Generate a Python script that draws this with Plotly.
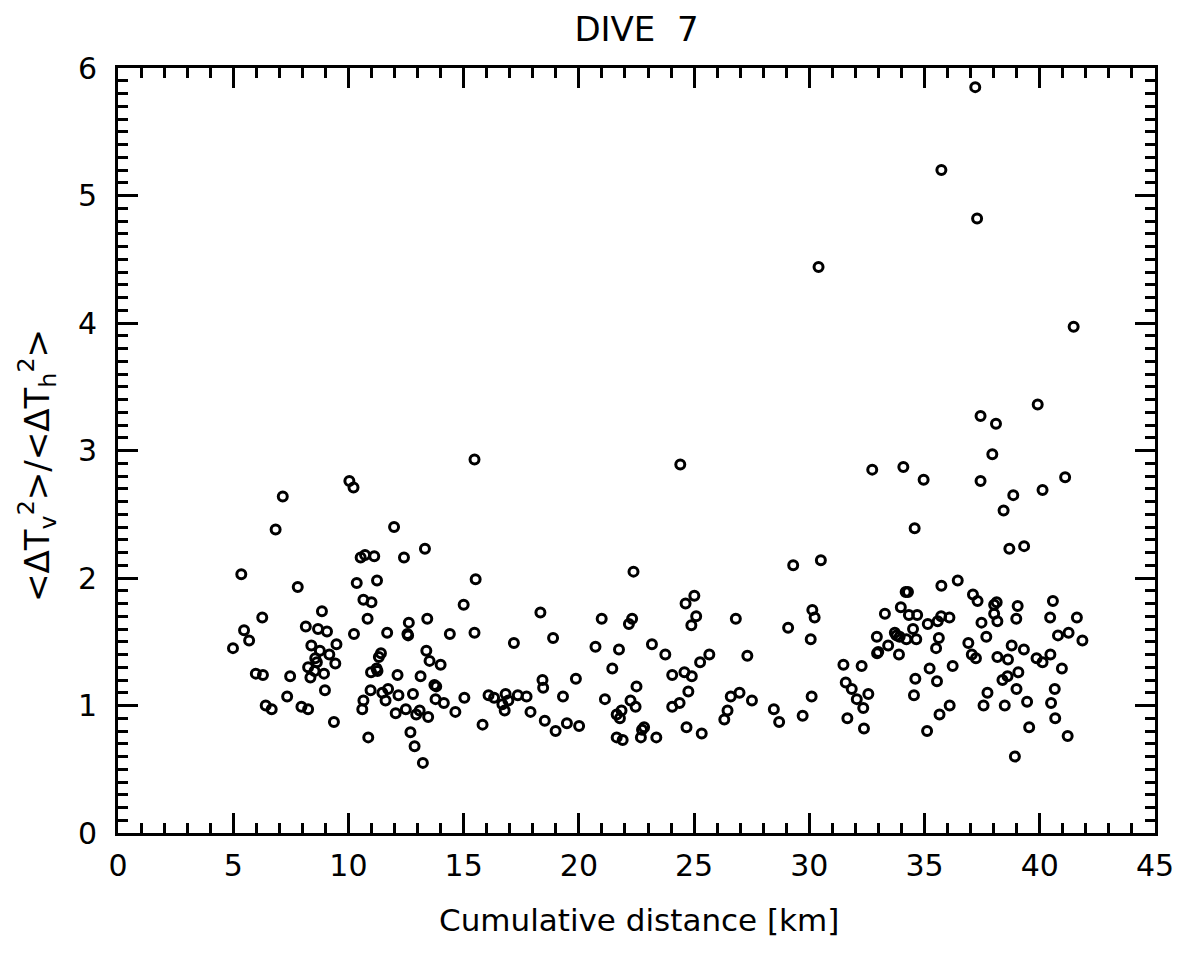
import plotly.graph_objects as go

# Cumulative distance [km]
dist_km = [
    4.99, 5.35, 5.47, 5.69, 5.98, 6.26, 6.29, 6.41, 6.67, 6.84, 7.15, 7.34, 7.47, 7.80, 7.96,
    8.15, 8.25, 8.25, 8.35, 8.39, 8.53, 8.56, 8.63, 8.68, 8.76, 8.85, 8.94, 8.98, 9.07, 9.17,
    9.37, 9.43, 9.48, 10.04, 10.22, 10.24, 10.36, 10.53, 10.60, 10.65, 10.65, 10.72, 10.83,
    10.86, 10.96, 10.98, 11.00, 11.12, 11.22, 11.24, 11.26, 11.32, 11.41, 11.47, 11.61, 11.68,
    11.72, 11.98, 12.05, 12.13, 12.17, 12.41, 12.49, 12.56, 12.59, 12.62, 12.69, 12.80, 12.87,
    12.94, 13.09, 13.13, 13.23, 13.32, 13.38, 13.42, 13.46, 13.52, 13.73, 13.78, 13.81, 14.00,
    14.14, 14.40, 14.64, 15.00, 15.03, 15.47, 15.47, 15.52, 15.82, 16.08, 16.32, 16.68, 16.78,
    16.82, 16.94, 17.18, 17.35, 17.73, 17.90, 18.33, 18.42, 18.45, 18.52, 18.88, 18.99, 19.31,
    19.48, 19.87, 20.01, 20.72, 20.99, 21.13, 21.45, 21.64, 21.64, 21.74, 21.78, 21.85, 21.90,
    22.17, 22.24, 22.31, 22.37, 22.46, 22.50, 22.69, 22.74, 22.83, 23.17, 23.36, 23.75, 24.05,
    24.05, 24.37, 24.40, 24.58, 24.63, 24.67, 24.75, 24.88, 24.90, 25.01, 25.09, 25.26, 25.33,
    25.66, 26.31, 26.45, 26.59, 26.81, 26.97, 27.31, 27.51, 28.46, 28.69, 29.08, 29.30, 29.71,
    30.06, 30.10, 30.13, 30.23, 30.40, 30.50, 31.48, 31.58, 31.65, 31.84, 32.06, 32.27, 32.34,
    32.37, 32.56, 32.73, 32.93, 32.94, 32.99, 33.28, 33.42, 33.71, 33.78, 33.89, 33.92, 33.97,
    34.08, 34.18, 34.21, 34.28, 34.32, 34.50, 34.54, 34.57, 34.60, 34.64, 34.68, 34.96, 35.11,
    35.14, 35.22, 35.50, 35.54, 35.57, 35.62, 35.65, 35.72, 35.73, 35.73, 36.08, 36.09, 36.22,
    36.44, 36.90, 37.05, 37.10, 37.20, 37.23, 37.28, 37.30, 37.43, 37.43, 37.47, 37.56, 37.68,
    37.73, 37.94, 38.02, 38.02, 38.10, 38.13, 38.16, 38.16, 38.38, 38.43, 38.48, 38.60, 38.62,
    38.68, 38.78, 38.85, 38.92, 38.98, 38.99, 39.04, 39.07, 39.31, 39.32, 39.45, 39.54, 39.86,
    39.91, 40.12, 40.12, 40.45, 40.46, 40.49, 40.57, 40.65, 40.67, 40.79, 40.96, 41.10, 41.21,
    41.25, 41.47, 41.61, 41.85,
]

# <dT_v^2>/<dT_h^2>
ratio = [
    1.45, 2.03, 1.59, 1.51, 1.25, 1.69, 1.24, 1.00, 0.97, 2.38, 2.64, 1.07, 1.23, 1.93, 0.99,
    1.62, 1.30, 0.97, 1.22, 1.47, 1.27, 1.37, 1.34, 1.60, 1.43, 1.74, 1.25, 1.12, 1.58, 1.40,
    0.87, 1.33, 1.48, 2.76, 2.71, 1.56, 1.96, 2.16, 0.97, 1.04, 1.83, 2.18, 1.68,
    0.75, 1.12, 1.26, 1.81, 2.17, 1.29, 1.98, 1.27, 1.38, 1.41, 1.10, 1.04, 1.57,
    1.13, 2.40, 0.94, 1.24, 1.08, 2.16, 0.97, 1.56, 1.55, 1.65, 0.79, 1.09, 0.68,
    0.93, 0.96, 1.23, 0.55, 2.23, 1.43, 1.68, 0.91, 1.35, 1.16, 1.05, 1.15, 1.32,
    1.02, 1.56, 0.95, 1.79, 1.06, 1.57, 2.93, 1.99, 0.85, 1.08, 1.06, 1.01, 0.96,
    1.09, 1.04, 1.49, 1.08, 1.07, 0.95, 1.73, 1.20, 1.14, 0.88, 1.53, 0.80, 1.07,
    0.86, 1.21, 0.84, 1.46, 1.68, 1.05, 1.29, 0.93, 0.75, 1.44, 0.90, 0.96, 0.73,
    1.64, 1.04, 1.68, 2.05, 0.99, 1.15, 0.75, 0.81, 0.83, 1.48, 0.75, 1.40, 1.24,
    0.99, 1.02, 2.89, 1.26, 1.80, 0.83, 1.11, 1.63, 1.23, 1.86, 1.70, 1.34, 0.78,
    1.40, 0.89, 0.96, 1.07, 1.68, 1.10, 1.39, 1.04, 0.97, 0.87, 1.61, 2.10, 0.92,
    1.52, 1.07, 1.75, 1.69, 4.44, 2.14, 1.32, 1.18, 0.90, 1.13, 1.05, 1.31, 0.98,
    0.82, 1.09, 2.85, 1.54, 1.41, 1.42, 1.72, 1.47, 1.57, 1.55, 1.40, 1.54, 1.77,
    2.87, 1.89, 1.52, 1.89, 1.71, 1.60, 1.08, 2.39, 1.21, 1.52, 1.71, 2.77, 0.80,
    1.64, 1.29, 1.45, 1.19, 1.66, 1.53, 0.93, 1.70, 5.20, 1.94, 1.69, 1.00, 1.31,
    1.98, 1.49, 1.40, 1.87, 5.85, 1.37, 4.82, 1.82, 3.27, 2.76, 1.65, 1.00, 1.54,
    1.10, 2.97, 1.79, 1.72, 3.21, 1.81, 1.66, 1.38, 1.20, 2.53, 1.00, 1.23, 1.36,
    2.23, 1.47, 2.65, 0.60, 1.68, 1.13, 1.78, 1.26, 1.44, 2.25, 1.03, 0.83, 1.37,
    3.36, 2.69, 1.34, 1.69, 1.40, 1.02, 1.82, 1.13, 0.90, 1.55, 1.29, 2.79, 0.76,
    1.57, 3.97, 1.69, 1.51,
]

title_text = "DIVE  7"
x_title = "Cumulative distance [km]"
y_title = "&lt;ΔT<sub>v</sub><sup>2</sup>&gt;/&lt;ΔT<sub>h</sub><sup>2</sup>&gt;"
x_ticks = [0, 5, 10, 15, 20, 25, 30, 35, 40, 45]
y_ticks = [0, 1, 2, 3, 4, 5, 6]

FONT = "DejaVu Sans"

fig = go.Figure()
fig.add_trace(go.Scatter(
    x=dist_km, y=ratio, mode="markers",
    marker=dict(symbol="circle-open", size=9, color="black", line=dict(width=3, color="black")),
    showlegend=False,
))

axis_common = dict(
    showgrid=False, zeroline=False, showline=True, linecolor="black", linewidth=3,
    mirror="ticks", ticks="inside", tickcolor="black", tickwidth=2.5, ticklen=20,
    tickfont=dict(family=FONT, size=30, color="black"),
)

fig.update_xaxes(
    range=[0, 45], tickvals=x_ticks, ticktext=[str(v) for v in x_ticks],
    minor=dict(dtick=1, ticks="inside", ticklen=10, tickwidth=2.5, tickcolor="black"),
    ticklabelstandoff=4,
    **axis_common,
)
fig.update_yaxes(
    range=[0, 6], tickvals=y_ticks, ticktext=[str(v) for v in y_ticks],
    minor=dict(dtick=0.1, ticks="inside", ticklen=10, tickwidth=2.5, tickcolor="black"),
    ticklabelstandoff=12,
    **axis_common,
)

fig.update_layout(
    width=1186, height=954,
    margin=dict(l=118, r=24, t=68, b=121),
    paper_bgcolor="white", plot_bgcolor="white",
    font=dict(family=FONT, color="black"),
    title=dict(text=title_text, xref="paper", x=0.5, xanchor="center",
               y=1 - 29 / 954, yanchor="middle",
               font=dict(family=FONT, size=34, color="black")),
    annotations=[
        dict(text=x_title, xref="paper", yref="paper", x=0.502, y=-0.114,
             xanchor="center", yanchor="middle", showarrow=False,
             font=dict(family=FONT, size=31, color="black")),
        dict(text=y_title, xref="paper", yref="paper", x=-0.078, y=0.48,
             xanchor="center", yanchor="middle", textangle=-90, showarrow=False,
             font=dict(family=FONT, size=34, color="black")),
    ],
)

fig.write_html("out.html")
